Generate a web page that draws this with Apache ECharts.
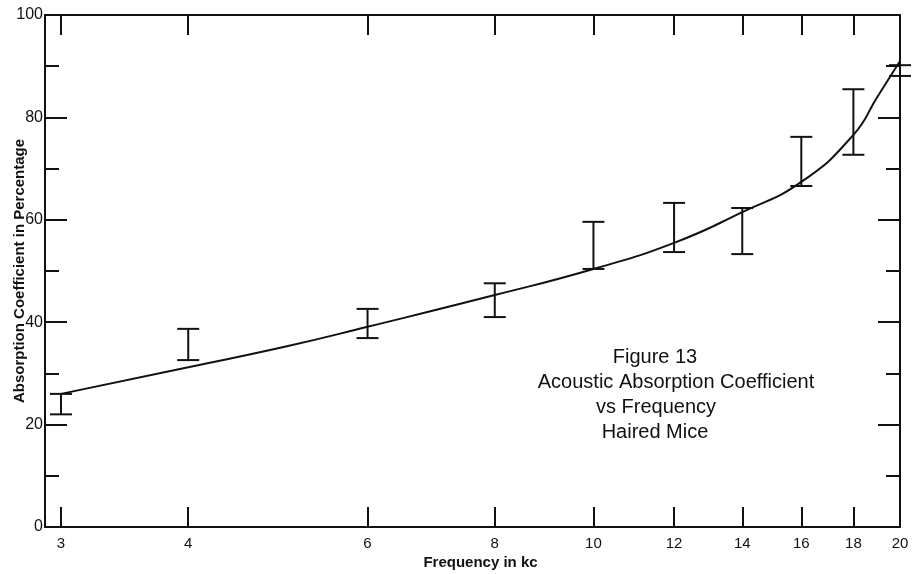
<!DOCTYPE html>
<html>
<head>
<meta charset="utf-8">
<script src="https://cdn.jsdelivr.net/npm/echarts@6/dist/echarts.min.js"></script>
<style>
  html, body { margin: 0; padding: 0; background: #fff; }
  #main { width: 913px; height: 574px; }
</style>
</head>
<body>
<div id="main"></div>
<script>
// tick labels on the (log) frequency axis
var freqTicks = [3, 4, 6, 8, 10, 12, 14, 16, 18, 20];

// error bars
var barFreq = [3, 4, 6, 8, 10, 12, 14, 16, 18, 20];
var barLow = [22, 32.6, 36.9, 41, 50.4, 53.7, 53.3, 66.6, 72.7, 88.1];
var barHigh = [26, 38.7, 42.6, 47.6, 59.6, 63.3, 62.3, 76.2, 85.5, 90.2];

// fitted curve
var curveFreq = [3, 4, 5, 6, 8, 10, 12, 14, 16, 18, 19, 20];
var curveVal = [26, 31.2, 35.3, 39.1, 45.3, 50.4, 55.5, 61.5, 67.4, 76.6, 84, 91];

var notes = ['Figure 13', 'Acoustic Absorption Coefficient', 'vs Frequency', 'Haired Mice'];

var ink = '#111';
var font = 'Liberation Sans';

function lg(v) { return Math.log10(v); }

var myChart = echarts.init(document.getElementById('main'));

var barData = barFreq.map(function (f, i) { return [lg(f), barLow[i], barHigh[i]]; });
var curveData = curveFreq.map(function (f, i) { return [lg(f), curveVal[i]]; });
var tickVals = freqTicks.map(lg);

function renderBar(params, api) {
    var x = api.value(0);
    var lo = api.coord([x, api.value(1)]);
    var hi = api.coord([x, api.value(2)]);
    var w = 11;
    var st = { stroke: ink, lineWidth: 2 };
    return {
        type: 'group',
        children: [
            { type: 'line', shape: { x1: lo[0], y1: lo[1], x2: hi[0], y2: hi[1] }, style: st },
            { type: 'line', shape: { x1: lo[0] - w, y1: lo[1], x2: lo[0] + w, y2: lo[1] }, style: st },
            { type: 'line', shape: { x1: hi[0] - w, y1: hi[1], x2: hi[0] + w, y2: hi[1] }, style: st }
        ]
    };
}

var xCommon = {
    type: 'value',
    min: lg(3) - 0.0157,
    max: lg(20),
    splitLine: { show: false },
    axisLine: { onZero: false, lineStyle: { color: ink, width: 2 } },
    axisTick: { inside: true, length: 20, lineStyle: { color: ink, width: 2 }, customValues: tickVals }
};

var yCommon = {
    type: 'value',
    min: 0,
    max: 100,
    interval: 20,
    splitLine: { show: false },
    axisLine: { show: true, onZero: false, lineStyle: { color: ink, width: 2 } },
    axisTick: { inside: true, length: 22, lineStyle: { color: ink, width: 2 } },
    minorTick: { show: true, splitNumber: 2, length: 14, lineStyle: { color: ink, width: 2 } }
};

var option = {
    backgroundColor: '#fff',
    animation: false,
    grid: { left: 45, right: 13, top: 15, bottom: 47, containLabel: false, outerBoundsMode: 'none' },
    xAxis: [
        echarts.util.merge({
            position: 'bottom',
            name: 'Frequency in kc',
            nameLocation: 'middle',
            nameGap: 28,
            nameMoveOverlap: false,
            nameTextStyle: { color: ink, fontFamily: font, fontSize: 15, fontWeight: 'bold', padding: [0, 0, 0, 16] },
            axisLabel: {
                color: ink, fontFamily: font, fontSize: 15, margin: 9,
                customValues: tickVals,
                formatter: function (v) { return Math.round(Math.pow(10, v)); }
            }
        }, xCommon, true),
        echarts.util.merge({
            position: 'top',
            axisLabel: { show: false }
        }, xCommon, true)
    ],
    yAxis: [
        echarts.util.merge({
            position: 'left',
            name: 'Absorption Coefficient in Percentage',
            nameLocation: 'middle',
            nameGap: 18,
            nameMoveOverlap: false,
            nameTextStyle: { color: ink, fontFamily: font, fontSize: 15, fontWeight: 'bold' },
            axisLabel: { color: ink, fontFamily: font, fontSize: 16, margin: 2 }
        }, yCommon, true),
        echarts.util.merge({
            position: 'right',
            axisLabel: { show: false }
        }, yCommon, true)
    ],
    graphic: notes.map(function (t, i) {
        var cx = [655, 676, 656, 655][i];
        return {
            type: 'text',
            x: cx,
            y: 357 + i * 25,
            style: {
                text: t, fill: ink, font: '20px "' + font + '"',
                textAlign: 'center', textVerticalAlign: 'middle'
            }
        };
    }),
    series: [
        {
            type: 'line',
            data: curveData,
            smooth: true,
            showSymbol: false,
            lineStyle: { color: ink, width: 2 },
            z: 3
        },
        {
            type: 'custom',
            data: barData,
            renderItem: renderBar,
            clip: false,
            z: 4
        }
    ]
};

myChart.setOption(option);
</script>
</body>
</html>
